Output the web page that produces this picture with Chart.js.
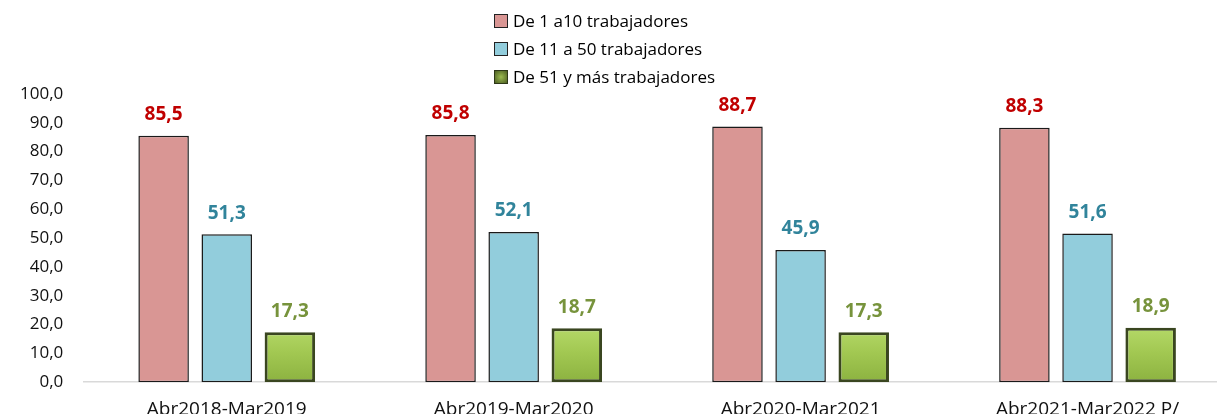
<!DOCTYPE html>
<html>
<head>
<meta charset="utf-8">
<script src="https://cdn.jsdelivr.net/npm/chart.js@4.4.0/dist/chart.umd.min.js"></script>
<style>
    html, body { margin: 0; padding: 0; background: #fff; overflow: hidden; }
    #wrap { position: relative; width: 1217px; height: 414px; overflow: hidden; }
    #legend { position: absolute; left: 494px; top: 7px; font-family: 'Open Sans', sans-serif; font-size: 17px; color: #000; }
    #legend div { height: 28px; line-height: 28px; display: flex; align-items: center; }
    #legend span.box { display: inline-block; width: 14px; height: 14px; margin-right: 5px; box-sizing: border-box; border: 1.5px solid #222; }
</style>
</head>
<body>
<div id="wrap">
    <canvas id="chart" width="1231" height="429"></canvas>
    <div id="legend"></div>
</div>
<script>
const categories = ['Abr2018-Mar2019', 'Abr2019-Mar2020', 'Abr2020-Mar2021', 'Abr2021-Mar2022 P/'];
const seriesNames = ['De 1 a10 trabajadores', 'De 11 a 50 trabajadores', 'De 51 y más trabajadores'];
const small = [85.5, 85.8, 88.7, 88.3];
const medium = [51.3, 52.1, 45.9, 51.6];
const large = [17.3, 18.7, 17.3, 18.9];
const yTicks = [0, 10, 20, 30, 40, 50, 60, 70, 80, 90, 100];

const FONT = "'Open Sans', sans-serif";
const labelColors = ['#C00000', '#31849B', '#77933C'];

const chartCanvas = document.getElementById('chart');
const ctx = chartCanvas.getContext('2d');

function fmt(v) {
    return v.toFixed(1).replace('.', ',');
}

// bevel-ish fill for the green bars
function greenFill(context) {
    const area = context.chart.chartArea;
    if (!area) return '#9BBB59';
    const g = ctx.createLinearGradient(0, area.bottom - 60, 0, area.bottom);
    g.addColorStop(0, '#b8dc6c');
    g.addColorStop(0.5, '#a2c852');
    g.addColorStop(1, '#8cb240');
    return g;
}

const valueLabels = {
    id: 'valueLabels',
    afterDatasetsDraw(chart) {
        const c = chart.ctx;
        c.save();
        c.font = 'bold 19px ' + FONT;
        c.textAlign = 'center';
        c.textBaseline = 'middle';
        chart.data.datasets.forEach((ds, i) => {
            const meta = chart.getDatasetMeta(i);
            meta.data.forEach((bar, j) => {
                c.fillStyle = labelColors[i];
                c.fillText(fmt(ds.data[j]), bar.x, bar.y - 21);
            });
        });
        c.restore();
    }
};

const chart = new Chart(chartCanvas, {
    type: 'bar',
    data: {
        labels: categories,
        datasets: [
            {
                label: seriesNames[0],
                data: small,
                backgroundColor: '#D99694',
                borderColor: '#1a1a1a',
                borderWidth: 1.5,
                borderSkipped: false
            },
            {
                label: seriesNames[1],
                data: medium,
                backgroundColor: '#92CDDC',
                borderColor: '#1a1a1a',
                borderWidth: 1.5,
                borderSkipped: false
            },
            {
                label: seriesNames[2],
                data: large,
                backgroundColor: greenFill,
                borderColor: '#3a4620',
                borderWidth: 3,
                borderSkipped: false
            }
        ]
    },
    options: {
        responsive: false,
        animation: false,
        layout: { padding: { top: 94, left: 8, right: 0, bottom: 0 } },
        datasets: {
            bar: { categoryPercentage: 0.66, barPercentage: 0.8 }
        },
        scales: {
            x: {
                grid: { display: false },
                border: { display: true, color: '#d9d9d9', width: 1.5 },
                ticks: { color: '#111', font: { family: FONT, size: 19 }, padding: 8, maxRotation: 0 }
            },
            y: {
                min: 0,
                max: 100,
                afterBuildTicks(axis) {
                    axis.ticks = yTicks.map(v => ({ value: v }));
                },
                grid: { display: false },
                border: { display: false },
                ticks: {
                    color: '#111',
                    font: { family: FONT, size: 17 },
                    padding: 12,
                    callback: v => fmt(v)
                }
            }
        },
        plugins: {
            legend: { display: false },
            tooltip: { enabled: false }
        }
    },
    plugins: [valueLabels]
});

// legend stacked vertically like the original
const legendDiv = document.getElementById('legend');
chart.data.datasets.forEach((ds, i) => {
    const row = document.createElement('div');
    const box = document.createElement('span');
    box.className = 'box';
    box.style.background = i === 2 ? 'radial-gradient(#9cbb50, #4d5f22)' : ds.backgroundColor;
    if (i === 2) box.style.borderColor = '#2e3818';
    row.appendChild(box);
    row.appendChild(document.createTextNode(ds.label));
    legendDiv.appendChild(row);
});
</script>
</body>
</html>
